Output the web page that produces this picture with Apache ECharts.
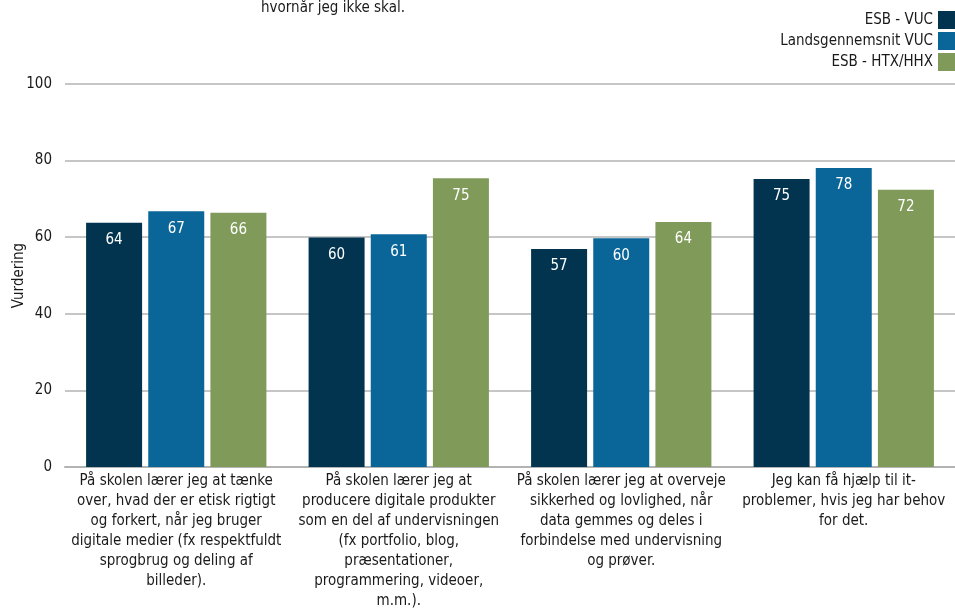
<!DOCTYPE html>
<html>
<head>
<meta charset="utf-8">
<script src="https://cdn.jsdelivr.net/npm/echarts@6/dist/echarts.min.js"></script>
<style>html,body{margin:0;padding:0;background:#fff;}#c{width:955px;height:612px;}</style>
</head>
<body>
<div id="c"></div>
<script>
const categories = [
  "På skolen lærer jeg at tænke\nover, hvad der er etisk rigtigt\nog forkert, når jeg bruger\ndigitale medier (fx respektfuldt\nsprogbrug og deling af\nbilleder).",
  "På skolen lærer jeg at\nproducere digitale produkter\nsom en del af undervisningen\n(fx portfolio, blog,\npræsentationer,\nprogrammering, videoer,\nm.m.).",
  "På skolen lærer jeg at overveje\nsikkerhed og lovlighed, når\ndata gemmes og deles i\nforbindelse med undervisning\nog prøver.",
  "Jeg kan få hjælp til it-\nproblemer, hvis jeg har behov\nfor det."
];
const seriesNames = ["ESB - VUC", "Landsgennemsnit VUC", "ESB - HTX/HHX"];
const esbVuc = [63.8, 59.9, 56.9, 75.2];
const landsVuc = [66.8, 60.8, 59.7, 78.1];
const esbHtx = [66.4, 75.4, 64.0, 72.4];
const yTicks = { min: 0, max: 100, interval: 20 };
const titleText = "hvornår jeg ikke skal.";
const yName = "Vurdering";

const FONT = "'DejaVu Sans Condensed', 'DejaVu Sans', sans-serif";
const FS = 15;
const colors = ["#02344f", "#0a6598", "#7f9a59"];
const values = [esbVuc, landsVuc, esbHtx];

const chart = echarts.init(document.getElementById('c'), null, { renderer: 'canvas' });
chart.setOption({
  animation: false,
  color: colors,
  textStyle: { fontFamily: FONT },
  title: {
    text: titleText,
    left: 256, top: -4,
    textStyle: { fontFamily: FONT, fontSize: FS, fontWeight: 'normal', color: '#1a1a1a' }
  },
  legend: {
    orient: 'vertical',
    right: 0, top: 11,
    padding: 0,
    align: 'right',
    itemWidth: 17, itemHeight: 18, itemGap: 3,
    icon: 'rect',
    textStyle: { fontFamily: FONT, fontSize: FS, color: '#1a1a1a' },
    data: seriesNames
  },
  grid: { left: 65, right: 0, top: 84, bottom: 145, containLabel: false, outerBoundsMode: 'none' },
  xAxis: {
    type: 'category',
    data: categories,
    axisLine: { show: true, lineStyle: { color: '#b3b3b3', width: 2 } },
    axisTick: { show: false },
    axisLabel: {
      interval: 0, margin: 4, fontFamily: FONT, fontSize: FS, lineHeight: 20,
      color: '#1a1a1a', align: 'center'
    }
  },
  yAxis: {
    type: 'value',
    min: yTicks.min, max: yTicks.max, interval: yTicks.interval,
    name: yName,
    nameLocation: 'middle',
    nameGap: 38,
    nameMoveOverlap: false,
    nameTextStyle: { fontFamily: FONT, fontSize: FS, color: '#1a1a1a' },
    axisLine: { show: false },
    axisTick: { show: false },
    axisLabel: { margin: 13, fontFamily: FONT, fontSize: FS, color: '#1a1a1a' },
    splitLine: { lineStyle: { color: '#b3b3b3', width: 1.5 } }
  },
  series: seriesNames.map((n, i) => ({
    name: n,
    type: 'bar',
    data: values[i],
    barWidth: 56,
    barGap: '11%',
    label: {
      show: true, position: 'insideTop', distance: 10,
      color: '#ffffff', fontFamily: FONT, fontSize: FS,
      formatter: p => Math.round(p.value)
    }
  }))
});
</script>
</body>
</html>
